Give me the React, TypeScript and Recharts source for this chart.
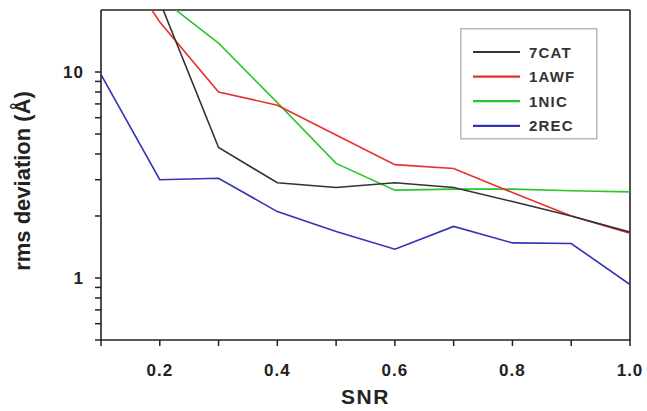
import React from 'react';
import { LineChart, Line, XAxis, YAxis, ReferenceLine } from 'recharts';

const snr = [0.1, 0.2, 0.3, 0.4, 0.5, 0.6, 0.7, 0.8, 0.9, 1.0];
const cat7 = [60, 22, 4.3, 2.9, 2.75, 2.9, 2.75, 2.35, 2.0, 1.67];
const awf1 = [47, 17.5, 8.0, 6.9, 4.95, 3.55, 3.4, 2.6, 2.0, 1.65];
const nic1 = [40, 23, 13.8, 7.1, 3.6, 2.67, 2.7, 2.7, 2.65, 2.62];
const rec2 = [9.7, 3.0, 3.05, 2.1, 1.68, 1.38, 1.78, 1.48, 1.47, 0.93];

const seriesNames = ['7CAT', '1AWF', '1NIC', '2REC'];
const seriesKeys = ['cat7', 'awf1', 'nic1', 'rec2'];
const seriesColors = ['#333333', '#e8302f', '#2ec42e', '#3232b4'];

const xTicks = [0.1, 0.2, 0.3, 0.4, 0.5, 0.6, 0.7, 0.8, 0.9, 1.0];
const xLabeled = [0.2, 0.4, 0.6, 0.8, 1.0];
const yTicks = [0.5, 0.6, 0.7, 0.8, 0.9, 1, 2, 3, 4, 5, 6, 7, 8, 9, 10];
const yLabeled = [1, 10];
const yDomain = [0.5, 20];
const xDomain = [0.1, 1.0];

const data = snr.map((s, i) => ({
  snr: s,
  cat7: cat7[i],
  awf1: awf1[i],
  nic1: nic1[i],
  rec2: rec2[i],
}));

const FONT = '"Liberation Sans", Arial, sans-serif';

const XTick = (props: any) => {
  const { x, y, payload } = props;
  const v = Number(payload.value);
  if (!xLabeled.some((l) => Math.abs(l - v) < 1e-6)) return <g />;
  return (
    <text x={x} y={y + 28} textAnchor="middle" fontFamily={FONT} fontWeight="bold" fontSize={17} letterSpacing={1} fill="#222">
      {v.toFixed(1)}
    </text>
  );
};

const YTick = (props: any) => {
  const { x, y, payload } = props;
  const v = Number(payload.value);
  if (!yLabeled.some((l) => Math.abs(l - v) < 1e-6)) return <g />;
  return (
    <text x={x - 9} y={y + 6} textAnchor="end" fontFamily={FONT} fontWeight="bold" fontSize={17} letterSpacing={1} fill="#222">
      {String(v)}
    </text>
  );
};

const YLabel = (props: any) => {
  const vb = props.viewBox || {};
  const cy = vb.y + vb.height / 2 + 6;
  return (
    <text
      transform={`translate(30, ${cy}) rotate(-90)`}
      textAnchor="middle"
      fontFamily={FONT}
      fontWeight="bold"
      fontSize={22}
      fill="#222"
    >
      rms deviation (Å)
    </text>
  );
};

const LegendBox = () => {
  return (
    <svg width={138} height={112} style={{ display: 'block' }}>
      <rect x={0.75} y={0.75} width={136} height={110} fill="#fff" stroke="#b8b8b8" strokeWidth={1.5} />
      {seriesNames.map((n, i) => {
        const cy = 24 + i * 24.6;
        return (
          <g key={n}>
            <line x1={13} x2={60} y1={cy} y2={cy} stroke={seriesColors[i]} strokeWidth={2.2} />
            <text x={69} y={cy + 5.5} fontFamily={FONT} fontWeight="bold" fontSize={15} letterSpacing={1.2} fill="#333">
              {n}
            </text>
          </g>
        );
      })}
    </svg>
  );
};

export default function App() {
  const drawOrder = [3, 2, 1, 0];
  return (
    <div style={{ position: 'absolute', left: 0, top: 0, width: 647, height: 411, background: '#fff' }}>
      <LineChart width={647} height={411} data={data} margin={{ top: 10, right: 17, bottom: 0, left: 0 }}>
        <XAxis
          dataKey="snr"
          type="number"
          domain={xDomain}
          ticks={xTicks}
          allowDataOverflow
          height={71}
          tickSize={6}
          axisLine={{ stroke: '#222', strokeWidth: 1.6 }}
          tickLine={{ stroke: '#222', strokeWidth: 1.5 }}
          tick={<XTick />}
          interval={0}
          label={{ value: 'SNR', position: 'insideBottom', offset: 7, fontFamily: FONT, fontWeight: 'bold', fontSize: 21, letterSpacing: 1.5, fill: '#222' }}
        />
        <YAxis
          scale="log"
          domain={yDomain}
          ticks={yTicks}
          allowDataOverflow
          width={101}
          tickSize={6}
          axisLine={{ stroke: '#222', strokeWidth: 1.6 }}
          tickLine={{ stroke: '#222', strokeWidth: 1.5 }}
          tick={<YTick />}
          interval={0}
          label={<YLabel />}
        />
        <ReferenceLine y={20} stroke="#222" strokeWidth={1.6} />
        <ReferenceLine x={1.0} stroke="#222" strokeWidth={1.6} />
        {drawOrder.map((i) => (
          <Line
            key={seriesKeys[i]}
            type="linear"
            dataKey={seriesKeys[i]}
            name={seriesNames[i]}
            stroke={seriesColors[i]}
            strokeWidth={1.6}
            dot={false}
            isAnimationActive={false}
          />
        ))}
      </LineChart>
      <div style={{ position: 'absolute', left: 460, top: 28 }}>
        <LegendBox />
      </div>
    </div>
  );
}
